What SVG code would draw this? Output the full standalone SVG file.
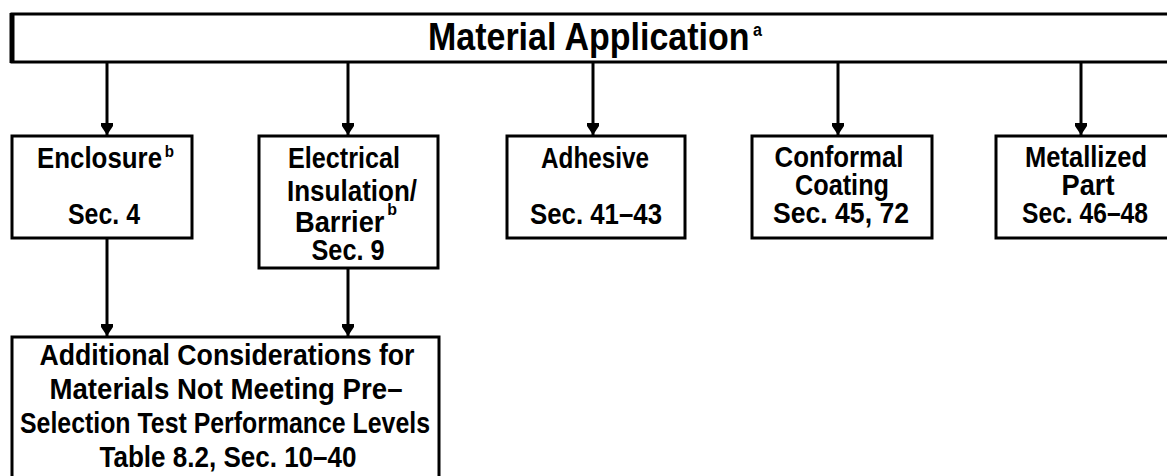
<svg xmlns="http://www.w3.org/2000/svg" width="1167" height="476" viewBox="0 0 1167 476">
<style>
.box{fill:#fff;stroke:#000;stroke-width:3}
.t{font-family:"Liberation Sans",Arial,sans-serif;font-weight:bold;font-size:29px;fill:#000;text-anchor:middle}
.st{text-anchor:start}
.sup{font-size:17px}
.c{stroke:#000;stroke-width:3;fill:none}
</style>
<defs>
<marker id="ah" markerUnits="userSpaceOnUse" markerWidth="14" markerHeight="14" refX="13" refY="7" orient="auto" viewBox="0 0 14 14">
<path d="M1,1 L1,13 L4,13 L13,7 L4,1 Z" fill="#000"/>
</marker>
</defs>
<g id="connectors">
<line class="c" x1="107" y1="62" x2="107" y2="135" marker-end="url(#ah)"/>
<line class="c" x1="348" y1="62" x2="348" y2="135" marker-end="url(#ah)"/>
<line class="c" x1="593" y1="62" x2="593" y2="135" marker-end="url(#ah)"/>
<line class="c" x1="838" y1="62" x2="838" y2="135" marker-end="url(#ah)"/>
<line class="c" x1="1081" y1="62" x2="1081" y2="135" marker-end="url(#ah)"/>
<line class="c" x1="107" y1="238" x2="107" y2="336" marker-end="url(#ah)"/>
<line class="c" x1="348" y1="268" x2="348" y2="336" marker-end="url(#ah)"/>
</g>
<g id="top">
<rect class="box" x="12" y="14" width="1170" height="48"/>
<line x1="12" y1="13" x2="12" y2="63" stroke="#000" stroke-width="5"/>
<text class="t st" x="428" y="50" style="font-size:38px" textLength="334" lengthAdjust="spacingAndGlyphs">Material Application<tspan dx="4" dy="-14" style="font-size:18px">a</tspan></text>
</g>
<g id="enclosure">
<rect class="box" x="12" y="136" width="180" height="102"/>
<text class="t st" x="37" y="168" textLength="137" lengthAdjust="spacingAndGlyphs">Enclosure<tspan class="sup" dx="3" dy="-11">b</tspan></text>
<text class="t" x="104" y="224" textLength="72" lengthAdjust="spacingAndGlyphs">Sec. 4</text>
</g>
<g id="electrical">
<rect class="box" x="259" y="136" width="179" height="132"/>
<text class="t" x="344" y="168" textLength="112" lengthAdjust="spacingAndGlyphs">Electrical</text>
<text class="t" x="352" y="201" textLength="130" lengthAdjust="spacingAndGlyphs">Insulation/</text>
<text class="t st" x="295" y="232" textLength="102" lengthAdjust="spacingAndGlyphs">Barrier<tspan class="sup" dx="3" dy="-17">b</tspan></text>
<text class="t" x="348" y="260" textLength="73" lengthAdjust="spacingAndGlyphs">Sec. 9</text>
</g>
<g id="adhesive">
<rect class="box" x="507" y="136" width="178" height="102"/>
<text class="t" x="595" y="168" textLength="108" lengthAdjust="spacingAndGlyphs">Adhesive</text>
<text class="t" x="596" y="224" textLength="132" lengthAdjust="spacingAndGlyphs">Sec. 41–43</text>
</g>
<g id="conformal">
<rect class="box" x="752" y="136" width="180" height="102"/>
<text class="t" x="839" y="167" textLength="129" lengthAdjust="spacingAndGlyphs">Conformal</text>
<text class="t" x="842" y="195" textLength="94" lengthAdjust="spacingAndGlyphs">Coating</text>
<text class="t" x="841" y="223" textLength="136" lengthAdjust="spacingAndGlyphs">Sec. 45, 72</text>
</g>
<g id="metallized">
<rect class="box" x="996" y="136" width="190" height="102"/>
<text class="t" x="1086" y="167" textLength="122" lengthAdjust="spacingAndGlyphs">Metallized</text>
<text class="t" x="1088" y="195" textLength="53" lengthAdjust="spacingAndGlyphs">Part</text>
<text class="t" x="1085" y="223" textLength="126" lengthAdjust="spacingAndGlyphs">Sec. 46–48</text>
</g>
<g id="additional">
<rect class="box" x="12" y="337" width="427" height="150"/>
<text class="t" x="227" y="365" textLength="375" lengthAdjust="spacingAndGlyphs">Additional Considerations for</text>
<text class="t" x="226" y="399" textLength="353" lengthAdjust="spacingAndGlyphs">Materials Not Meeting Pre–</text>
<text class="t" x="225" y="433" textLength="410" lengthAdjust="spacingAndGlyphs">Selection Test Performance Levels</text>
<text class="t" x="228" y="467" textLength="257" lengthAdjust="spacingAndGlyphs">Table 8.2, Sec. 10–40</text>
</g>
</svg>
